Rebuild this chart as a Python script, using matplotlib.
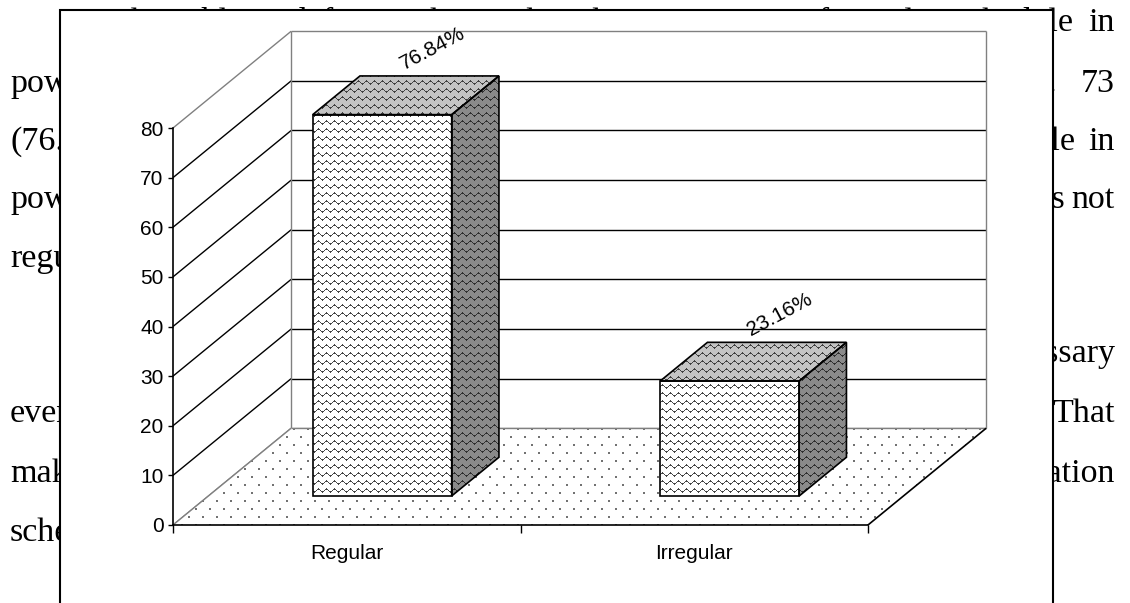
import numpy as np
import matplotlib
matplotlib.use("Agg")
import matplotlib.pyplot as plt
from matplotlib.patches import Polygon, Rectangle

# Chart data
categories = ["Regular", "Irregular"]
values = [76.84, 23.16]
value_labels = ["76.84%", "23.16%"]
yticks = [0, 10, 20, 30, 40, 50, 60, 70, 80]

# Page text around the chart (only the parts that show outside the frame)
first_line = "The table and figure shows that the percentage of regular schedule in"
left_words = [(92, "power"), (150, "(76.84%)"), (208, "power"), (267, "regular."),
              (422, "every"), (482, "makes"), (541, "schedule")]
# (baseline, words, word gap of that justified line)
right_words = [(92, "respondents. 73", 24), (150, "schedule in", 13), (208, "is not", 7),
               (362, "necessary", 13), (422, "crops. That", 13), (482, "timely irrigation", 13)]

W, H = 1130, 603
fig = plt.figure(figsize=(W / 100, H / 100), dpi=100)

# ---- background page, pixel units ----
bg = fig.add_axes([0, 0, 1, 1])
bg.set_xlim(0, W)
bg.set_ylim(H, 0)
bg.axis("off")
bg.set_zorder(0)

serif = dict(family="Liberation Serif", fontsize=24.5, va="baseline", color="black")
renderer = fig.canvas.get_renderer()
page_left, page_right = 10, 1115


def put_words(y, words, x_start=None, x_end=None, gap=13):
    items = [bg.text(0, y, w, **serif) for w in words]
    widths = [t.get_window_extent(renderer).width for t in items]
    if x_start is not None and x_end is not None:
        gap = (x_end - x_start - sum(widths)) / (len(words) - 1)
    if x_start is None:
        x_start = x_end - sum(widths) - gap * (len(words) - 1)
    x = x_start
    for t, w in zip(items, widths):
        t.set_x(x)
        x += w + gap


put_words(31, first_line.split(), x_start=110, x_end=page_right)
for y, txt in left_words:
    put_words(y, txt.split(), x_start=page_left)
for y, txt, g in right_words:
    put_words(y, txt.split(), x_end=page_right, gap=g)

# white frame of the embedded chart
bg.add_patch(Rectangle((60, 10), 993, 700, facecolor="white", edgecolor="black",
                       lw=1.5, zorder=5, clip_on=False))

# ---- front plane axes: spines, ticks, labels ----
ncat = len(categories)
axt = fig.add_axes([173 / W, (H - 525) / H, 695 / W, 397 / H])
axt.set_zorder(2)
axt.patch.set_alpha(0)
axt.set_xlim(0, ncat)
axt.set_ylim(0, yticks[-1])

# ---- content axes over the full figure, same data mapping as axt ----
ax = fig.add_axes([0, 0, 1, 1])
ax.set_zorder(1)
ax.patch.set_alpha(0)
ax.axis("off")
lo, hi = axt.transData.inverted().transform([(0, 0), (W, H)])
xlim = (lo[0], hi[0])
ylim = (lo[1], hi[1])
extent = (xlim[0], xlim[1], ylim[0], ylim[1])

depth_dx = 0.34     # category units
depth_dy = 19.5     # value units
bar_w = 0.4
d0, d1 = 0.3, 0.7
grey = "#808080"


def proj(x, v, d):
    return (x + d * depth_dx, v + d * depth_dy)


def seg(p, q, **kw):
    ax.plot([p[0], q[0]], [p[1], q[1]], solid_capstyle="butt", **kw)


# fill textures on the figure pixel grid
rows, cols = np.mgrid[0:H, 0:W]
wave = np.abs((rows % 8) - 2 - 1.5 * np.sin(2 * np.pi * cols / 8)) < 0.8
dots = (((rows % 16) // 2 == 2) & ((cols % 14) // 2 == 3)) | \
       (((rows % 16) // 2 == 6) & (((cols + 7) % 14) // 2 == 3))


def texture(mask, shade, alpha=1.0):
    img = np.zeros((H, W, 4))
    img[..., :3] = shade
    img[..., 3] = mask.astype(float) * alpha
    return img


def face(verts, color, tex, z):
    poly = Polygon(verts, closed=True, facecolor=color, edgecolor="none", zorder=z)
    ax.add_patch(poly)
    im = ax.imshow(tex, extent=extent, origin="upper", interpolation="nearest",
                   aspect="auto", zorder=z + 0.1)
    im.set_clip_path(poly)
    ax.add_patch(Polygon(verts, closed=True, fill=False, edgecolor="black",
                         lw=1.2, zorder=z + 0.2))


# side wall and back wall gridlines
for v in yticks:
    col = grey if v in (yticks[0], yticks[-1]) else "black"
    seg(proj(0, v, 0), proj(0, v, 1), color=col, lw=1.0, zorder=1)
    seg(proj(0, v, 1), proj(ncat, v, 1), color=col, lw=1.0, zorder=1)
seg(proj(0, 0, 1), proj(0, yticks[-1], 1), color=grey, lw=1.0, zorder=1)
seg(proj(ncat, 0, 1), proj(ncat, yticks[-1], 1), color=grey, lw=1.0, zorder=1)

# floor with dotted fill
floor = [proj(0, 0, 0), proj(ncat, 0, 0), proj(ncat, 0, 1), proj(0, 0, 1)]
fpoly = Polygon(floor, closed=True, facecolor="white", edgecolor="none", zorder=1.2)
ax.add_patch(fpoly)
fim = ax.imshow(texture(dots, 0.35, 0.85), extent=extent, origin="upper",
                interpolation="nearest", aspect="auto", zorder=1.3)
fim.set_clip_path(fpoly)
seg(proj(0, 0, 0), proj(0, 0, 1), color=grey, lw=1.0, zorder=1.5)
seg(proj(0, 0, 1), proj(ncat, 0, 1), color=grey, lw=1.0, zorder=1.5)
seg(proj(ncat, 0, 0), proj(ncat, 0, 1), color="black", lw=1.2, zorder=1.5)

# 3D bars
tex_front = texture(wave, 0.1, 0.8)
tex_top = texture(wave, 0.2, 0.9)
tex_side = texture(wave, 0.15, 0.9)
for i, h in enumerate(values):
    x0 = i + 0.5 - bar_w / 2
    x1 = i + 0.5 + bar_w / 2
    face([proj(x0, 0, d0), proj(x1, 0, d0), proj(x1, h, d0), proj(x0, h, d0)],
         "white", tex_front, 3)
    face([proj(x0, h, d0), proj(x1, h, d0), proj(x1, h, d1), proj(x0, h, d1)],
         "#c4c4c4", tex_top, 3)
    face([proj(x1, 0, d0), proj(x1, 0, d1), proj(x1, h, d1), proj(x1, h, d0)],
         "#8a8a8a", tex_side, 3)
    ax.annotate(value_labels[i], xy=proj(i + 0.5, h, 0.5), xytext=(19, 34),
                textcoords="offset points", rotation=28, ha="center", va="center",
                fontsize=15, family="Liberation Sans", annotation_clip=False)

ax.set_xlim(xlim)
ax.set_ylim(ylim)

# front axis formatting
for s in ["top", "right"]:
    axt.spines[s].set_visible(False)
for s in ["left", "bottom"]:
    axt.spines[s].set_linewidth(1.2)
axt.set_yticks(yticks)
axt.set_yticklabels([str(v) for v in yticks], family="Liberation Sans")
axt.set_xticks(range(ncat + 1))
axt.set_xticklabels([""] * (ncat + 1))
axt.set_xticks([i + 0.5 for i in range(ncat)], minor=True)
axt.set_xticklabels(categories, minor=True, family="Liberation Sans")
axt.tick_params(axis="y", direction="out", length=3.6, width=1.0, pad=3.2, labelsize=15)
axt.tick_params(axis="x", which="major", direction="out", length=5.8, width=1.0)
axt.tick_params(axis="x", which="minor", length=0, pad=13.5, labelsize=15)

fig.savefig("out.png", dpi=100)
